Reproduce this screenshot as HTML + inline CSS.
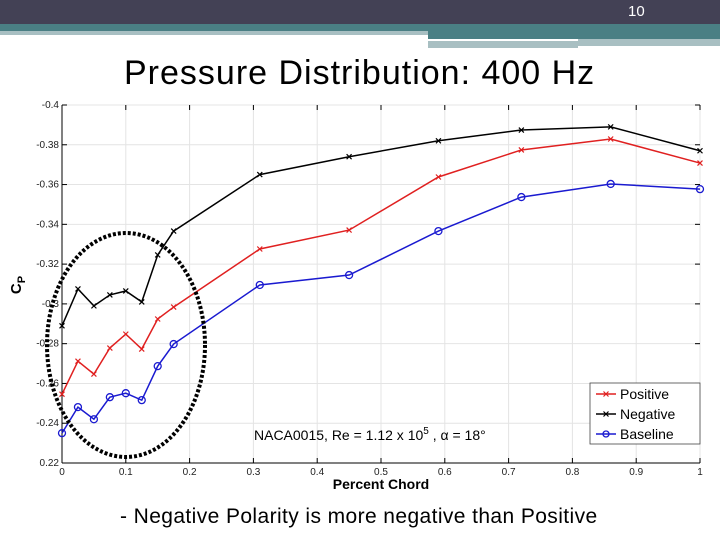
<!DOCTYPE html>
<html><head><meta charset="utf-8"><style>
body{margin:0;width:720px;height:540px;overflow:hidden;background:#fff;font-family:"Liberation Sans",sans-serif;position:relative}
.abs{position:absolute}
</style></head><body>
<div class="abs" style="left:0;top:0;width:720px;height:24px;background:#434155"></div>
<div class="abs" style="left:0;top:24px;width:720px;height:9px;background:#4a7f84"></div>
<div class="abs" style="left:0;top:31px;width:428px;height:4px;background:#a8bfc2"></div>
<div class="abs" style="left:428px;top:33px;width:292px;height:6px;background:#4a7f84"></div>
<div class="abs" style="left:428px;top:41px;width:150px;height:7px;background:#a8bfc2"></div>
<div class="abs" style="left:578px;top:39px;width:142px;height:7px;background:#a8bfc2"></div>
<div class="abs" style="left:628px;top:3px;color:#fff;font-size:15px">10</div>
<div class="abs" style="left:124px;top:54px;font-size:34px;letter-spacing:1px;color:#000;white-space:nowrap">Pressure Distribution: 400 Hz</div>
<div class="abs" style="left:120px;top:505px;font-size:21px;letter-spacing:0.4px;color:#000;white-space:nowrap">- Negative Polarity is more negative than Positive</div>
<svg class="abs" style="left:0;top:0" width="720" height="540">
<g id="grid"></g><g id="axes"></g><g id="series"></g>
<ellipse cx="126" cy="345" rx="79" ry="112" fill="none" stroke="#000" stroke-width="4" stroke-dasharray="3,2"/>
<text x="254" y="440" font-size="14" font-family="Liberation Sans,sans-serif">NACA0015, Re = 1.12 x 10<tspan dy="-6" font-size="10">5</tspan><tspan dy="6"> , α = 18°</tspan></text>
<text x="381" y="489" font-size="14" font-weight="bold" text-anchor="middle">Percent Chord</text>
<text transform="translate(21,285) rotate(-90)" font-size="15" font-weight="bold" text-anchor="middle">C<tspan dy="4" font-size="11">P</tspan></text>
<g>
<rect x="590" y="383" width="110" height="61" fill="#fff" stroke="#444" stroke-width="0.8"/>
</g>
<g id="legend"></g>
</svg>
<script>
const xs=[0,0.025,0.05,0.075,0.1,0.125,0.15,0.175,0.31,0.45,0.59,0.72,0.86,1.0];
const negative=[-0.289,-0.3075,-0.299,-0.3045,-0.3065,-0.301,-0.3246,-0.3366,-0.365,-0.374,-0.382,-0.3874,-0.389,-0.377];
const positive=[-0.2546,-0.2712,-0.2647,-0.2778,-0.2848,-0.2773,-0.2924,-0.2984,-0.3276,-0.3371,-0.3638,-0.3774,-0.3829,-0.3708];
const baseline=[-0.235,-0.2481,-0.242,-0.2531,-0.2551,-0.2516,-0.2687,-0.2798,-0.3095,-0.3145,-0.3366,-0.3537,-0.3603,-0.3577];
const xTicks=[0,0.1,0.2,0.3,0.4,0.5,0.6,0.7,0.8,0.9,1];
const yTicks=[-0.4,-0.38,-0.36,-0.34,-0.32,-0.3,-0.28,-0.26,-0.24,-0.22];
const yTickLabels=["-0.4","-0.38","-0.36","-0.34","-0.32","-0.3","-0.28","-0.26","-0.24","0.22"];
const xTickLabels=["0","0.1","0.2","0.3","0.4","0.5","0.6","0.7","0.8","0.9","1"];
const NS="http://www.w3.org/2000/svg";
const X=v=>62+v*638, Y=v=>105+(v+0.4)/0.18*358;
function mk(t,a,p){const e=document.createElementNS(NS,t);for(const k in a)e.setAttribute(k,a[k]);p.appendChild(e);return e;}
const grid=document.getElementById('grid'),axes=document.getElementById('axes'),ser=document.getElementById('series'),leg=document.getElementById('legend');
xTicks.forEach((t,i)=>{
 const g=mk('line',{x1:X(t),x2:X(t),y1:105,y2:463,stroke:'#e4e4e4','stroke-width':1},grid);
 
 
 mk('line',{x1:X(t),x2:X(t),y1:463,y2:458,stroke:'#000'},axes);
 mk('line',{x1:X(t),x2:X(t),y1:105,y2:110,stroke:'#000'},axes);
 const l=mk('text',{x:X(t),y:475,'font-size':10,'text-anchor':'middle',fill:'#222'},axes);
 l.textContent=xTickLabels[i];
 
 
});
yTicks.forEach((t,i)=>{
 const g=mk('line',{x1:62,x2:700,y1:Y(t),y2:Y(t),stroke:'#e4e4e4','stroke-width':1},grid);
 
 
 mk('line',{x1:62,x2:67,y1:Y(t),y2:Y(t),stroke:'#000'},axes);
 mk('line',{x1:700,x2:695,y1:Y(t),y2:Y(t),stroke:'#000'},axes);
 const l=mk('text',{x:59,y:Y(t)+3,'font-size':10,'text-anchor':'end',fill:'#222'},axes);
 l.textContent=yTickLabels[i];
 
 
});
const ax1=mk('line',{x1:62,x2:62,y1:105,y2:463,stroke:'#000'},axes);


const ax2=mk('line',{x1:62,x2:700,y1:463,y2:463,stroke:'#000'},axes);


function xm(p,x,y,c,s){mk('path',{d:`M${x-s} ${y-s}L${x+s} ${y+s}M${x-s} ${y+s}L${x+s} ${y-s}`,stroke:c,'stroke-width':1.2,fill:'none'},p);}
function draw(vals,c,mark,name){
 const g=mk('g',{},ser);
 
 
 const pl=mk('polyline',{points:vals.map((v,i)=>X(xs[i])+','+Y(v)).join(' '),fill:'none',stroke:c,'stroke-width':1.5},g);
 
 
 vals.forEach((v,i)=>{ if(mark==='o'){const m=mk('circle',{cx:X(xs[i]),cy:Y(v),r:3.5,fill:'none',stroke:c,'stroke-width':1.3},g);} else xm(g,X(xs[i]),Y(v),c,2.5);});
}
draw(positive,'#e02020','x','positive');
draw(negative,'#000','x','negative');
draw(baseline,'#1a1ad0','o','baseline');
[['Positive','#e02020','x'],['Negative','#000','x'],['Baseline','#1a1ad0','o']].forEach((e,i)=>{
 const y=394+i*20;
 const g=mk('g',{},leg);
 
 
 mk('line',{x1:596,x2:616,y1:y,y2:y,stroke:e[1],'stroke-width':1.5},g);
 if(e[2]==='o')mk('circle',{cx:606,cy:y,r:3,fill:'none',stroke:e[1],'stroke-width':1.3},g); else xm(g,606,y,e[1],2.5);
 const t=mk('text',{x:620,y:y+5,'font-size':14,fill:'#000'},g);t.textContent=e[0];
});
</script>
</body></html>
